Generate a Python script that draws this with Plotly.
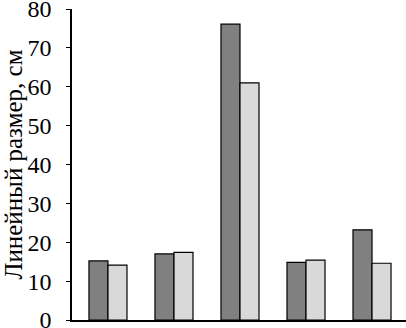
import plotly.graph_objects as go

categories = ["1", "2", "3", "4", "5"]
series_a = [15.2, 17.0, 76.1, 14.8, 23.2]
series_b = [14.1, 17.4, 61.0, 15.4, 14.6]
y_ticks = [0, 10, 20, 30, 40, 50, 60, 70, 80]

fig = go.Figure()
fig.add_bar(x=categories, y=series_a, marker=dict(color="#808080", line=dict(color="black", width=1.2)))
fig.add_bar(x=categories, y=series_b, marker=dict(color="#d9d9d9", line=dict(color="black", width=1.2)))

fig.update_layout(
    width=406, height=328,
    margin=dict(l=72, r=0, t=9, b=8),
    paper_bgcolor="white", plot_bgcolor="white",
    barmode="group", bargap=0.424, bargroupgap=0,
    showlegend=False,
    font=dict(family="Times New Roman, Liberation Serif, serif", size=24, color="black"),
)
fig.update_xaxes(
    type="category", range=[-0.545, 4.515], showticklabels=False, ticks="",
    showline=True, linecolor="black", linewidth=2, showgrid=False, zeroline=False,
)
fig.update_yaxes(
    range=[0, 80], tickvals=y_ticks, ticks="outside", ticklen=4, tickcolor="black",
    ticklabeloverflow="allow", ticklabelstandoff=10,
    showline=True, linecolor="black", linewidth=1.5, showgrid=False, zeroline=False,
    title=dict(text="Линейный размер, см", standoff=12, font=dict(size=25)),
    automargin=False,
)
fig.write_html("out.html", config={"displayModeBar": False},
               post_script="document.body.style.margin='0px';document.body.style.overflow='hidden';")
